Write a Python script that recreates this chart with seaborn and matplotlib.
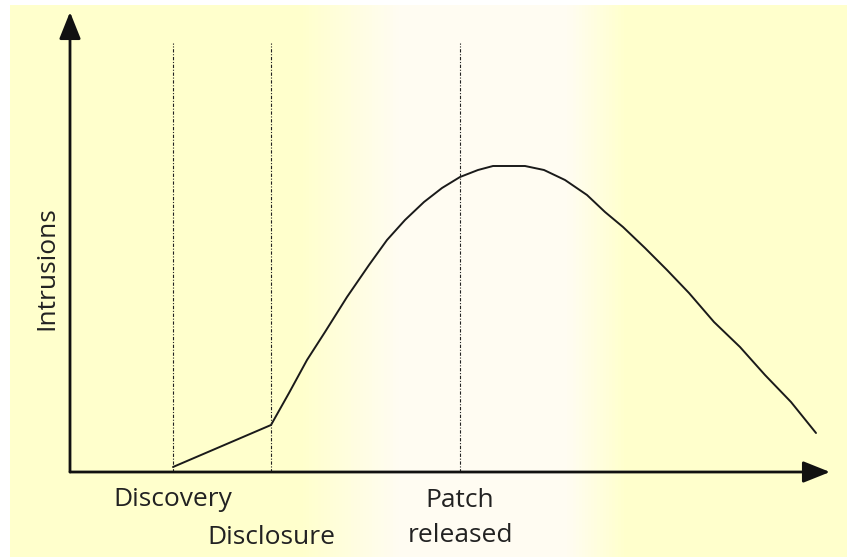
import numpy as np
import pandas as pd
import seaborn as sns
import matplotlib.pyplot as plt
import matplotlib.colors as mcolors
from matplotlib.patches import Rectangle

# intrusion curve (time / intrusions in arbitrary units)
time = [103, 201, 219, 237, 255, 277, 299, 317, 335, 354, 372, 390, 408, 423,
        455, 474, 495, 517, 535, 553, 575, 597, 619, 644, 670, 695, 721, 746]
intrusions = [5, 47, 79, 112, 140, 175, 207, 232, 252, 270, 284, 295, 302, 306,
              306, 302, 292, 277, 260, 245, 224, 202, 179, 150, 125, 97, 70, 39]

event_names = ['Discovery', 'Disclosure', 'Patch\nreleased']
event_times = [103, 201, 390]
event_label_y = [-28, -65, -46]

x_max, y_max = 760, 460
line_top = 429

sns.set_style('white')
plt.rcParams['font.family'] = ['Open Sans', 'DejaVu Sans']

fig = plt.figure(figsize=(8.47, 5.57), dpi=100)
fig.patch.set_facecolor('#ffffcc')

# background: pale yellow with a lighter band in the middle
yellow = np.array(mcolors.to_rgb('#ffffcc'))
light = np.array(mcolors.to_rgb('#fffcf2'))
xs = np.arange(0, 847) + 0.5
w = np.clip(np.minimum((xs - 300) / 100, (625 - xs) / 60), 0, 1)
for i in range(0, 847, 3):
    c = yellow * (1 - w[i]) + light * w[i]
    fig.patches.append(Rectangle((i / 847, 0), 3.5 / 847, 1, transform=fig.transFigure,
                                 facecolor=c, edgecolor='none', zorder=-10))
# white strips on the left and top edges
fig.patches.append(Rectangle((0, 0), 10 / 847, 1, transform=fig.transFigure,
                             facecolor='white', edgecolor='none', zorder=-9))
fig.patches.append(Rectangle((0, 1 - 5 / 557), 1, 5 / 557, transform=fig.transFigure,
                             facecolor='white', edgecolor='none', zorder=-9))

ax = fig.add_axes([70 / 847, (557 - 472) / 557, (830 - 70) / 847, (472 - 12) / 557])
ax.patch.set_alpha(0)
ax.set_xlim(0, x_max)
ax.set_ylim(0, y_max)

df = pd.DataFrame({'time': time, 'intrusions': intrusions})
sns.lineplot(data=df, x='time', y='intrusions', ax=ax, color='#1a1a1a', lw=1.4)

for t in event_times:
    ax.plot([t, t], [0, line_top], color='#222222', lw=0.8, ls=(0, (3, 1.5, 1, 1.5)))

for name, t, yl in zip(event_names, event_times, event_label_y):
    ax.text(t, yl, name, ha='center', va='center', fontsize=19, color='#222222',
            linespacing=1.56, clip_on=False)

# axes with arrow heads
arrow = dict(arrowstyle='-|>,head_length=0.55,head_width=0.22', mutation_scale=30,
             color='#111111', lw=2, shrinkA=0, shrinkB=0)
ax.annotate('', xy=(1, 0), xytext=(0, 0), xycoords='axes fraction', arrowprops=arrow)
ax.annotate('', xy=(0, 1), xytext=(0, 0), xycoords='axes fraction', arrowprops=arrow)

for s in ax.spines.values():
    s.set_visible(False)
ax.set_xticks([])
ax.set_yticks([])
ax.set_xlabel('')
ax.set_ylabel('')
ax.text(-23, 472 - 268, 'Intrusions', rotation=90, ha='center', va='center',
        fontsize=19, color='#222222', clip_on=False)

fig.savefig('out.png', dpi=100, facecolor=fig.get_facecolor())
